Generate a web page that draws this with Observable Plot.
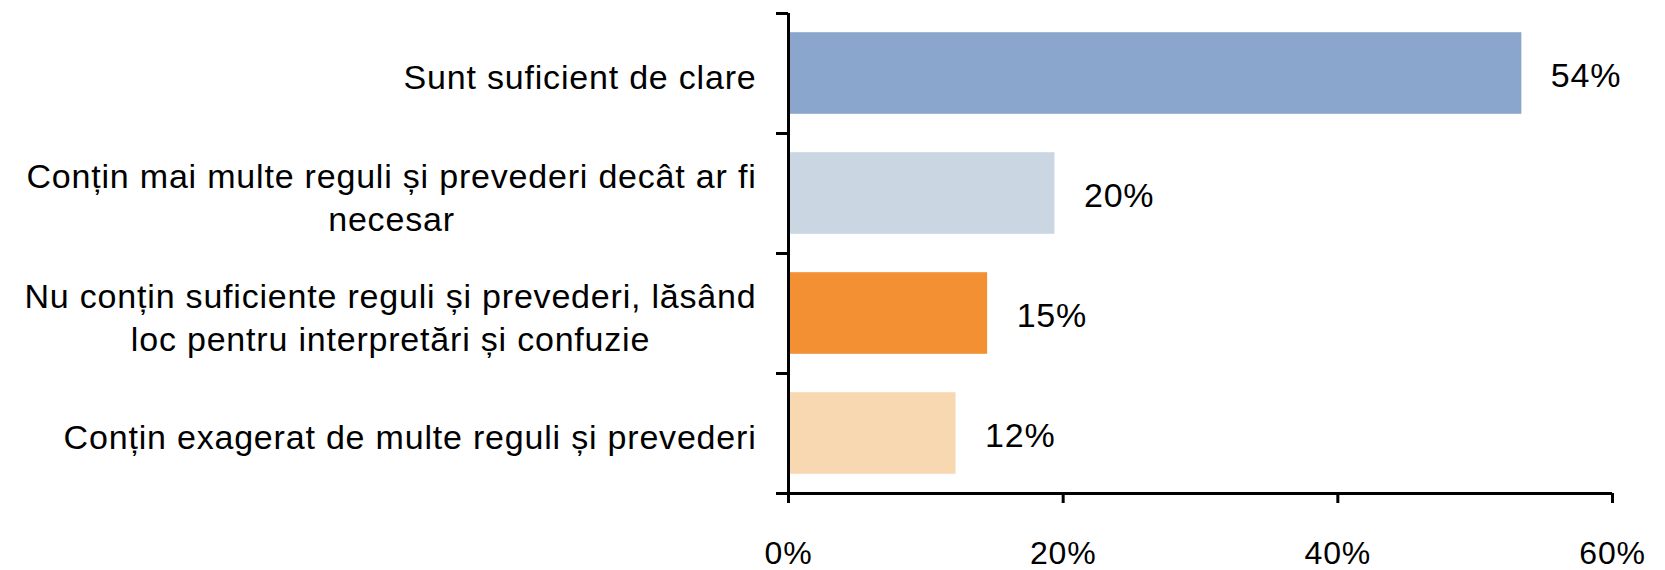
<!DOCTYPE html>
<html>
<head>
<meta charset="utf-8">
<script src="https://cdn.jsdelivr.net/npm/d3@7"></script>
<script src="https://cdn.jsdelivr.net/npm/@observablehq/plot@0.6"></script>
<style>
  html, body { margin: 0; padding: 0; background: #fff; }
</style>
</head>
<body>
<div id="chart"></div>
<script>
const categories = [
  "Sunt suficient de clare",
  "Conțin mai multe reguli și prevederi decât ar fi\nnecesar",
  "Nu conțin suficiente reguli și prevederi, lăsând\nloc pentru interpretări și confuzie",
  "Conțin exagerat de multe reguli și prevederi"
];
const values = [53.4, 19.4, 14.5, 12.2];
const valueLabels = ["54%", "20%", "15%", "12%"];
const colors = ["#8aa6cc", "#cbd6e3", "#f39033", "#f8d8b0"];
const xTicks = [0, 20, 40, 60];

const rows = categories.map((c, i) => ({
  i, category: c, value: values[i], label: valueLabels[i], color: colors[i]
}));
const boundaries = d3.range(categories.length + 1);

const chart = Plot.plot({
  width: 1665,
  height: 570,
  marginLeft: 788,
  marginRight: 53,
  marginTop: 13,
  marginBottom: 77,
  x: {domain: [0, 60], label: null},
  y: {domain: [0, categories.length], reverse: true, label: null},
  color: {type: "identity"},
  style: {
    fontFamily: "'Liberation Sans', Arial, sans-serif",
    fontSize: "34px",
    color: "#000",
    background: "#fff",
    letterSpacing: "0.8px",
    overflow: "visible"
  },
  marks: [
    Plot.rect(rows, {x1: 0, x2: "value", y1: d => d.i + 0.16, y2: d => d.i + 0.84, fill: "color"}),
    Plot.text(rows, {x: "value", y: d => d.i + 0.5, text: "label", textAnchor: "start", dx: 29, dy: 3, fill: "#000"}),
    Plot.text(rows, {y: d => d.i + 0.5, text: "category", frameAnchor: "left", textAnchor: "end", dx: -32, dy: 2, lineHeight: 1.26, fill: "#000"}),
    Plot.axisY({ticks: boundaries, tickFormat: () => "", tickSize: 12, strokeWidth: 3, stroke: "#000", label: null}),
    Plot.axisX({ticks: xTicks, tickFormat: d => d + "%", tickSize: 10, tickPadding: 38, strokeWidth: 3, stroke: "#000", fill: "#000", fontSize: 32, label: null}),
    Plot.ruleX([0], {strokeWidth: 3, stroke: "#000"}),
    Plot.ruleY([categories.length], {strokeWidth: 3, stroke: "#000"})
  ]
});

document.getElementById("chart").appendChild(chart);

// Center the lines of wrapped labels within their right-aligned block
chart.querySelectorAll("text").forEach(t => {
  const spans = t.querySelectorAll("tspan");
  if (spans.length > 1) {
    const w = t.getBBox().width;
    t.setAttribute("text-anchor", "middle");
    spans.forEach(s => {
      const x0 = parseFloat(s.getAttribute("x") || "0");
      s.setAttribute("x", x0 - w / 2);
    });
  }
});
</script>
</body>
</html>
